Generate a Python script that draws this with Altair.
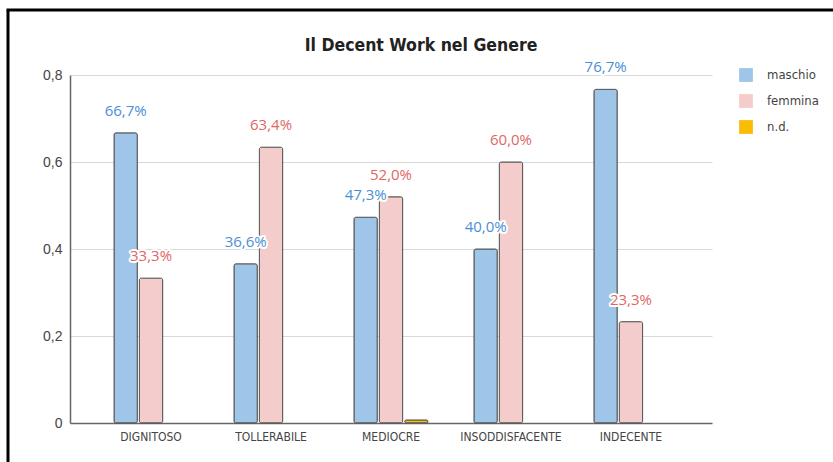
import altair as alt
import pandas as pd

categories = ["DIGNITOSO", "TOLLERABILE", "MEDIOCRE", "INSODDISFACENTE", "INDECENTE"]
series = ["maschio", "femmina", "n.d."]
maschio = [0.667, 0.366, 0.473, 0.400, 0.767]
femmina = [0.333, 0.634, 0.520, 0.600, 0.233]
nd = [0.0, 0.0, 0.007, 0.0, 0.0]
y_ticks = [0, 0.2, 0.4, 0.6, 0.8]
title_text = "Il Decent Work nel Genere"

bar_colors = ["#9fc5e8", "#f4cccc", "#fbbc04"]
label_colors = ["#4a8fd6", "#e06666", "#fbbc04"]

rows = []
for i, c in enumerate(categories):
    for s, vals in zip(series, [maschio, femmina, nd]):
        rows.append({"categoria": c, "serie": s, "valore": vals[i],
                     "etichetta": f"{vals[i]*100:.1f}%".replace(".", ",")})
df = pd.DataFrame(rows)

NARROW = "Liberation Sans Narrow, Arial Narrow, DejaVu Sans Condensed, sans-serif"
SANS = "Liberation Sans, Arial, sans-serif"

x = alt.X("categoria:N", sort=categories, title=None,
          scale=alt.Scale(domain=categories, paddingInner=0.383, paddingOuter=0.367),
          axis=alt.Axis(labelAngle=0, labelFont=NARROW, labelFontSize=12,
                        labelColor="#444444", domainColor="#666666", domainWidth=1.5,
                        ticks=False, labelPadding=8))
xoff = alt.XOffset("serie:N", sort=series,
                   scale=alt.Scale(domain=series, paddingInner=0.08, paddingOuter=0))
y = alt.Y("valore:Q", title=None,
          scale=alt.Scale(domain=[0, 0.8], nice=False),
          axis=alt.Axis(values=y_ticks, labelExpr="replace(format(datum.value,'~g'),'.',',')",
                        labelFont=SANS, labelFontSize=14, labelColor="#444444",
                        domainColor="#666666", domainWidth=1.5, ticks=False,
                        gridColor="#d9d9d9", labelPadding=8))

color = alt.Color("serie:N", sort=series,
                  scale=alt.Scale(domain=series, range=bar_colors),
                  legend=alt.Legend(title=None, orient="none", legendX=669, legendY=-7,
                                    symbolType="square", symbolSize=190,
                                    symbolStrokeWidth=0, rowPadding=12,
                                    labelFont=NARROW, labelFontSize=13,
                                    labelColor="#444444", labelOffset=14))

bars = alt.Chart(df).mark_bar(stroke="#555555", strokeWidth=1, cornerRadius=2).encode(
    x=x, xOffset=xoff, y=y, color=color).transform_filter("datum.valore > 0")

lab_df = df[df["serie"] != "n.d."]
fill = alt.Fill("serie:N", scale=alt.Scale(domain=series, range=label_colors), legend=None)
halo = alt.Chart(lab_df).mark_text(fontSize=15, font="Open Sans, sans-serif", dy=-22,
                                   stroke="white", strokeWidth=4, strokeJoin="round",
                                   baseline="middle").encode(
    x=x, xOffset=xoff, y=y, text="etichetta:N", fill=fill)
texts = alt.Chart(lab_df).mark_text(fontSize=15, font="Open Sans, sans-serif", dy=-22,
                                    baseline="middle").encode(
    x=x, xOffset=xoff, y=y, text="etichetta:N", fill=fill)

one = pd.DataFrame({"t": [title_text]})
title = alt.Chart(one).mark_text(font=NARROW, fontSize=17.5, fontWeight="bold",
                                 color="#222222", baseline="alphabetic", align="center").encode(
    x=alt.value(351), y=alt.value(-24), text="t:N")
left_line = alt.Chart(one).mark_rule(color="black", strokeWidth=3).encode(
    x=alt.value(-62), y=alt.value(-65), y2=alt.value(400))
top_line = alt.Chart(one).mark_rule(color="black", strokeWidth=3).encode(
    x=alt.value(-63.5), x2=alt.value(770), y=alt.value(-65))

chart = alt.layer(bars, halo, texts, title, left_line, top_line).properties(
    width=642, height=348,
    autosize=alt.AutoSizeParams(type="none"),
    padding={"left": 70, "top": 75, "right": 121, "bottom": 39},
    background="white",
).configure_view(stroke=None)

chart.save("out.html", embed_options={"renderer": "svg", "actions": False})
